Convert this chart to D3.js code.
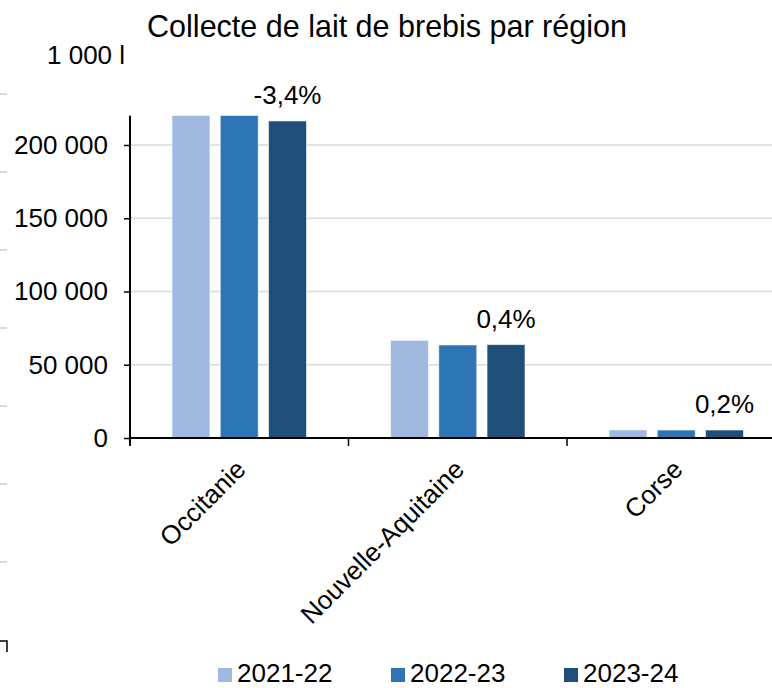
<!DOCTYPE html>
<html>
<head>
<meta charset="utf-8">
<script src="https://cdn.jsdelivr.net/npm/d3@7"></script>
<style>
  body { margin: 0; background: #fff; }
  svg { display: block; font-family: "Liberation Sans", Arial, sans-serif; }
</style>
</head>
<body>
<svg id="chart" width="772" height="688"></svg>
<script>
// data
var regions = ['Occitanie', 'Nouvelle-Aquitaine', 'Corse'];
var campaigns = ['2021-22', '2022-23', '2023-24'];
var val_2021 = [230000, 66700, 5500];
var val_2022 = [224000, 63500, 5450];
var val_2023 = [216400, 63750, 5460];
var pct_labels = ['-3,4%', '0,4%', '0,2%'];
var y_ticks = [0, 50000, 100000, 150000, 200000];
var colors = ['#a0b9e1', '#2e75b6', '#1f4e79'];

var series = [val_2021, val_2022, val_2023];

const svg = d3.select('#chart');

var fr = d3.formatLocale({decimal: ',', thousands: '\u00a0', grouping: [3], currency: ['', ' €']});
var fmt = fr.format(',');

var y = d3.scaleLinear()
    .domain([0, 200000])
    .range([438, 145]);
var yTop = y(220000);

var x = d3.scaleBand()
    .domain(regions)
    .range([130, 785.5]);

var xs = d3.scaleBand()
    .domain(campaigns)
    .range([0, x.bandwidth()])
    .paddingInner(0.213)
    .paddingOuter(0.87);

// left edge marks (from the source page)
svg.selectAll('.edge')
    .data([94, 172, 250, 328, 406, 484, 562])
    .enter()
    .append('line')
    .attr('x1', 0).attr('x2', 7)
    .attr('y1', d => d).attr('y2', d => d)
    .attr('stroke', '#d9d9d9')
    .attr('stroke-width', 2);

svg.append('path')
    .attr('d', 'M0,641H7V652')
    .attr('fill', 'none')
    .attr('stroke', '#000')
    .attr('stroke-width', 1.5);

// title
svg.append('text')
    .attr('x', 387)
    .attr('y', 37)
    .attr('text-anchor', 'middle')
    .style('font-size', '30.5px')
    .text('Collecte de lait de brebis par région');

svg.append('text')
    .attr('x', 47)
    .attr('y', 64)
    .style('font-size', '26px')
    .text('1 000 l');

// grid
svg.append('g')
    .selectAll('line')
    .data(y_ticks.filter(d => d > 0))
    .enter()
    .append('line')
    .attr('x1', 130).attr('x2', 772)
    .attr('y1', d => y(d)).attr('y2', d => y(d))
    .attr('stroke', '#d9d9d9')
    .attr('stroke-width', 1.5);

svg.append('clipPath')
    .attr('id', 'plot-clip')
    .append('rect')
    .attr('x', 130).attr('y', yTop)
    .attr('width', 700).attr('height', 438 - yTop);

// bars
var groups = svg.append('g')
    .attr('clip-path', 'url(#plot-clip)')
    .selectAll('g')
    .data(regions)
    .enter()
    .append('g')
    .attr('transform', d => 'translate(' + x(d) + ',0)');

groups.selectAll('rect')
    .data((r, i) => campaigns.map((c, j) => ({c: c, v: series[j][i], j: j})))
    .enter()
    .append('rect')
    .attr('x', d => xs(d.c))
    .attr('width', xs.bandwidth())
    .attr('y', d => y(d.v))
    .attr('height', d => 438 - y(d.v))
    .attr('fill', d => colors[d.j])
    .attr('stroke', '#fff')
    .attr('stroke-opacity', 0.6)
    .attr('stroke-width', 1);

// variation labels above last bar
svg.selectAll('.pct')
    .data(regions)
    .enter()
    .append('text')
    .attr('class', 'pct')
    .attr('x', d => x(d) + xs('2023-24') + xs.bandwidth() / 2)
    .attr('y', (d, i) => y(val_2023[i]) - 17)
    .attr('text-anchor', 'middle')
    .style('font-size', '26px')
    .text((d, i) => pct_labels[i]);

// y axis
var yAxis = svg.append('g')
    .attr('transform', 'translate(130,0)')
    .call(d3.axisLeft(y).tickValues(y_ticks).tickSize(6).tickPadding(16).tickFormat(fmt));
yAxis.select('.domain').remove();
yAxis.selectAll('text').style('font-size', '26px').attr('fill', '#000').style('font-family', 'Liberation Sans, Arial, sans-serif');
yAxis.selectAll('line').attr('stroke', '#000').attr('stroke-width', 1.5);

svg.append('line')
    .attr('x1', 130).attr('x2', 130)
    .attr('y1', yTop).attr('y2', 446)
    .attr('stroke', '#000').attr('stroke-width', 2);

// x axis
svg.append('line')
    .attr('x1', 130).attr('x2', 772)
    .attr('y1', 438).attr('y2', 438)
    .attr('stroke', '#000').attr('stroke-width', 2);

svg.selectAll('.xtick')
    .data(regions.slice(1))
    .enter()
    .append('line')
    .attr('x1', d => x(d)).attr('x2', d => x(d))
    .attr('y1', 438).attr('y2', 446)
    .attr('stroke', '#000').attr('stroke-width', 1.5);

svg.selectAll('.xlab')
    .data(regions)
    .enter()
    .append('text')
    .attr('text-anchor', 'end')
    .attr('transform', d => 'translate(' + (x(d) + x.bandwidth() / 2 + 8) + ',471) rotate(-45)')
    .style('font-size', '26px')
    .text(d => d);

// legend
var legendX = [218, 391, 564];
var legend = svg.selectAll('.leg')
    .data(campaigns)
    .enter()
    .append('g')
    .attr('transform', (d, i) => 'translate(' + legendX[i] + ',668)');

legend.append('rect')
    .attr('width', 14).attr('height', 14)
    .attr('fill', (d, i) => colors[i]);

legend.append('text')
    .attr('x', 19)
    .attr('y', 14)
    .style('font-size', '26px')
    .text(d => d);
</script>
</body>
</html>
